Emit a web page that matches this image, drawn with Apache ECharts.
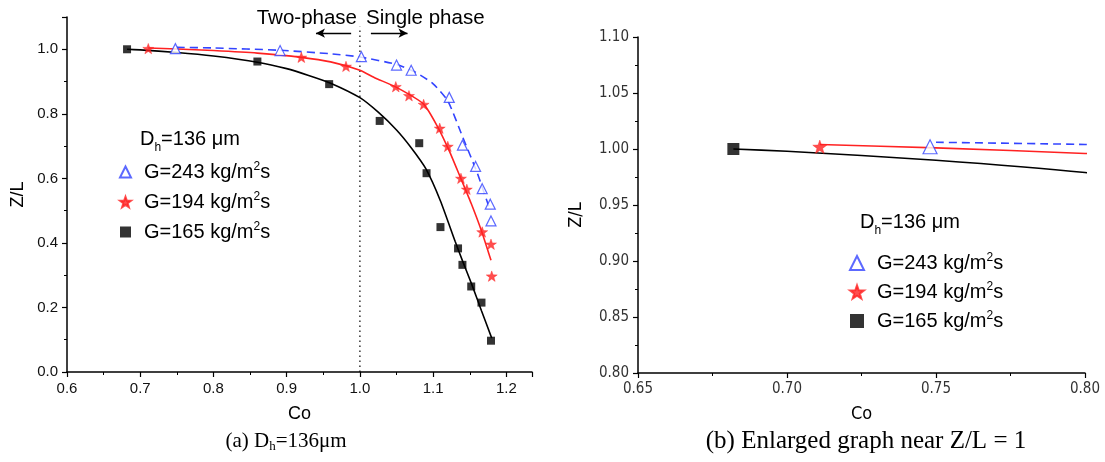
<!DOCTYPE html>
<html><head><meta charset="utf-8">
<script src="https://cdn.jsdelivr.net/npm/echarts@6/dist/echarts.min.js"></script>
<style>html,body{margin:0;padding:0;background:#fff}#c{width:1105px;height:462px}</style>
</head><body><div id="c"></div>
<script>
// ---- measured data points ----
const co243 = [0.748, 0.891, 1.002, 1.050, 1.070, 1.122, 1.140, 1.158, 1.167, 1.178, 1.179];
const z243  = [1.002, 0.996, 0.977, 0.951, 0.935, 0.851, 0.703, 0.637, 0.568, 0.520, 0.468];
const co194 = [0.711, 0.920, 0.981, 1.049, 1.067, 1.087, 1.109, 1.120, 1.138, 1.146, 1.167, 1.179, 1.180];
const z194  = [1.002, 0.975, 0.947, 0.884, 0.856, 0.829, 0.755, 0.699, 0.600, 0.566, 0.434, 0.396, 0.297];
const co165 = [0.682, 0.860, 0.958, 1.027, 1.081, 1.091, 1.110, 1.134, 1.140, 1.152, 1.166, 1.179];
const z165  = [1.000, 0.962, 0.892, 0.778, 0.709, 0.616, 0.449, 0.383, 0.332, 0.265, 0.215, 0.097];
// ---- fitted curves ----
const fitCo243 = [0.750, 0.800, 0.890, 0.960, 1.000, 1.050, 1.075, 1.100, 1.120, 1.140, 1.160, 1.178];
const fitZ243  = [1.006, 1.004, 0.997, 0.986, 0.976, 0.953, 0.930, 0.893, 0.840, 0.730, 0.618, 0.500];
const fitCo194 = [0.711, 0.750, 0.800, 0.860, 0.920, 0.960, 1.000, 1.020, 1.050, 1.087, 1.107, 1.122, 1.137, 1.152, 1.1665, 1.179];
const fitZ194  = [1.004, 1.001, 0.996, 0.988, 0.975, 0.961, 0.935, 0.912, 0.882, 0.830, 0.756, 0.685, 0.604, 0.522, 0.434, 0.346];
const fitCo165 = [0.682, 0.700, 0.750, 0.800, 0.860, 0.900, 0.930, 0.960, 1.000, 1.025, 1.050, 1.070, 1.090, 1.110, 1.130, 1.140, 1.153, 1.166, 1.180];
const fitZ165  = [1.000, 0.998, 0.990, 0.979, 0.960, 0.940, 0.919, 0.895, 0.850, 0.805, 0.750, 0.695, 0.630, 0.530, 0.405, 0.345, 0.270, 0.190, 0.105];
// ---- names / annotations ----
const seriesNames = ['G=243 kg/m2s', 'G=194 kg/m2s', 'G=165 kg/m2s'];
const phaseBoundary = 1.0;
const boundaryTop = 1.07;
const arrowZ = 1.05;
const twoPhaseArrow = [0.988, 0.94];
const singlePhaseArrow = [1.015, 1.065];

const zip = (a, b) => a.map((v, i) => [v, b[i]]);
const BLUE = '#3344ff', RED = '#ff2222', BLACK = '#000000';
const STAR = 'path://M100,0 L123.5,67.6 L195.1,69.1 L138,112.4 L158.8,180.9 L100,140 L41.2,180.9 L62,112.4 L4.9,69.1 L76.5,67.6 Z';
const SANS = 'Liberation Sans, Arial, sans-serif';
const NARROW = 'Liberation Sans Narrow, DejaVu Sans Condensed, Liberation Sans, sans-serif';
const SERIF = 'Liberation Serif, Times New Roman, serif';

function axisCommon(font, color) {
  return {
    axisLine: { show: true, lineStyle: { color: '#000', width: 1.5 } },
    axisTick: { show: true, inside: false, length: 5, lineStyle: { color: '#000', width: 1.2 } },
    minorTick: { show: true, splitNumber: 2, length: 3, lineStyle: { color: '#000', width: 1 } },
    splitLine: { show: false },
    minorSplitLine: { show: false },
    axisLabel: { color: color, fontSize: 15, fontFamily: font, margin: 9 },
    nameTextStyle: { color: '#000', fontSize: 18, fontFamily: font }
  };
}

function scatter(idx, name, data, size, gi) {
  const styles = [
    { symbol: 'triangle', itemStyle: { color: '#ffffff', borderColor: BLUE, borderWidth: 1.2 } },
    { symbol: STAR, itemStyle: { color: RED, borderColor: RED, borderWidth: 0.5 } },
    { symbol: 'rect', itemStyle: { color: BLACK } }
  ];
  return Object.assign({
    type: 'scatter', name: name, data: data, symbolSize: size, symbolKeepAspect: true,
    xAxisIndex: gi, yAxisIndex: gi, z: 4, silent: true
  }, styles[idx]);
}
function fitLine(name, data, color, dashed, gi) {
  return {
    type: 'line', name: name, data: data, showSymbol: false, smooth: 0.2,
    xAxisIndex: gi, yAxisIndex: gi, z: 2, silent: true, clip: true,
    lineStyle: { color: color, width: 1.6, type: dashed ? [8, 5] : 'solid' }
  };
}

const legendRich = {
  p: { width: 8 },
  t: { fontSize: 20, fontFamily: SANS, color: '#000', lineHeight: 22 },
  s: { fontSize: 12, fontFamily: SANS, color: '#000', lineHeight: 12, verticalAlign: 'top' }
};
const legendFmt = n => '{p|}{t|' + n.replace('m2s', 'm') + '}{s|2}{t|s}';

const option = {
  animation: false,
  backgroundColor: '#fff',
  grid: [
    { left: 67, top: 17, width: 465, height: 355 },
    { left: 638, top: 37, width: 447, height: 336 }
  ],
  xAxis: [
    Object.assign(axisCommon(SANS, '#111'), { type: 'value', gridIndex: 0, min: 0.6, max: 1.235, interval: 0.1,
      name: 'Co', nameLocation: 'middle', nameGap: 33 }),
    Object.assign(axisCommon(NARROW, '#333'), { type: 'value', gridIndex: 1, min: 0.65, max: 0.80, interval: 0.05,
      name: 'Co', nameLocation: 'middle', nameGap: 32 })
  ],
  yAxis: [
    Object.assign(axisCommon(SANS, '#111'), { type: 'value', gridIndex: 0, min: 0, max: 1.1, interval: 0.2,
      name: 'Z/L', nameLocation: 'middle', nameGap: 40 }),
    Object.assign(axisCommon(NARROW, '#333'), { type: 'value', gridIndex: 1, min: 0.80, max: 1.10, interval: 0.05,
      name: 'Z/L', nameLocation: 'middle', nameGap: 53, nameTextStyle: { color: '#000', fontSize: 18, fontFamily: NARROW, padding: [0, 20, 0, 0] } })
  ],
  legend: [
    { data: seriesNames, orient: 'vertical', left: 114, top: 156, itemWidth: 11, itemHeight: 11, itemGap: 9,
      selectedMode: false, formatter: legendFmt, textStyle: { rich: legendRich } },
    { data: seriesNames, orient: 'vertical', left: 844, top: 247, itemWidth: 14, itemHeight: 14, itemGap: 8,
      selectedMode: false, formatter: legendFmt, textStyle: { rich: legendRich } }
  ],
  series: [
    fitLine('fit243a', zip(fitCo243, fitZ243), BLUE, true, 0),
    fitLine('fit194a', zip(fitCo194, fitZ194), RED, false, 0),
    fitLine('fit165a', zip(fitCo165, fitZ165), BLACK, false, 0),
    scatter(0, seriesNames[0], zip(co243, z243), 10, 0),
    scatter(1, seriesNames[1], zip(co194, z194), 11, 0),
    scatter(2, seriesNames[2], zip(co165, z165), 8, 0),
    {
      type: 'line', name: 'boundary', xAxisIndex: 0, yAxisIndex: 0, showSymbol: false, silent: true, z: 1,
      data: [[phaseBoundary, 0], [phaseBoundary, boundaryTop]],
      lineStyle: { color: '#000', width: 1.2, type: [1.5, 3.5] },
      markLine: {
        silent: true, symbol: ['none', 'arrow'], symbolSize: [7, 9], label: { show: false },
        lineStyle: { color: '#000', width: 1.3, type: 'solid' },
        data: [
          [{ coord: [twoPhaseArrow[0], arrowZ] }, { coord: [twoPhaseArrow[1], arrowZ] }],
          [{ coord: [singlePhaseArrow[0], arrowZ] }, { coord: [singlePhaseArrow[1], arrowZ] }]
        ]
      }
    },
    fitLine('fit243b', zip(fitCo243, fitZ243), BLUE, true, 1),
    fitLine('fit194b', zip(fitCo194, fitZ194), RED, false, 1),
    fitLine('fit165b', zip(fitCo165, fitZ165), BLACK, false, 1),
    scatter(0, seriesNames[0], zip(co243, z243), 14, 1),
    scatter(1, seriesNames[1], zip(co194, z194), 14, 1),
    scatter(2, seriesNames[2], zip(co165, z165), 12, 1)
  ],
  graphic: [
    { type: 'text', x: 357, y: 18, style: { text: 'Two-phase', align: 'right', verticalAlign: 'middle', fontSize: 20.5, fontFamily: SANS, fill: '#000' } },
    { type: 'text', x: 366, y: 18, style: { text: 'Single phase', align: 'left', verticalAlign: 'middle', fontSize: 20.5, fontFamily: SANS, fill: '#000' } },
    { type: 'text', x: 140, y: 139, style: { text: '{t|D}{b|h}{t|=136 μm}', align: 'left', verticalAlign: 'middle',
      rich: { t: { fontSize: 20, fontFamily: SANS, fill: '#000', lineHeight: 22 }, b: { fontSize: 12, fontFamily: SANS, fill: '#000', lineHeight: 10, verticalAlign: 'bottom', padding: [0, 0, -4, 0] } } } },
    { type: 'text', x: 860, y: 222, style: { text: '{t|D}{b|h}{t|=136 μm}', align: 'left', verticalAlign: 'middle',
      rich: { t: { fontSize: 20, fontFamily: SANS, fill: '#000', lineHeight: 22 }, b: { fontSize: 12, fontFamily: SANS, fill: '#000', lineHeight: 10, verticalAlign: 'bottom', padding: [0, 0, -4, 0] } } } },
    { type: 'text', x: 286, y: 441, style: { text: '{t|(a) D}{b|h}{t|=136μm}', align: 'center', verticalAlign: 'middle',
      rich: { t: { fontSize: 21, fontFamily: SERIF, fill: '#000', lineHeight: 24 }, b: { fontSize: 13, fontFamily: SERIF, fill: '#000', lineHeight: 13, verticalAlign: 'bottom' } } } },
    { type: 'text', x: 866, y: 441, style: { text: '(b) Enlarged graph near Z/L = 1', align: 'center', verticalAlign: 'middle',
      fontSize: 25, fontFamily: SERIF, fill: '#000' } }
  ]
};
option.xAxis[0].axisLabel.formatter = v => v.toFixed(1);
option.yAxis[0].axisLabel.formatter = v => v.toFixed(1);
option.xAxis[0].axisLabel.showMaxLabel = false;
option.yAxis[0].axisLabel.showMaxLabel = false;
option.xAxis[1].axisLabel.formatter = v => v.toFixed(2);
option.yAxis[1].axisLabel.formatter = v => v.toFixed(2);
option.xAxis[1].axisLabel.showMaxLabel = true;
option.yAxis[1].axisLabel.showMaxLabel = true;

const chart = echarts.init(document.getElementById('c'), null, { renderer: 'canvas' });
chart.setOption(option);
</script>
</body></html>
